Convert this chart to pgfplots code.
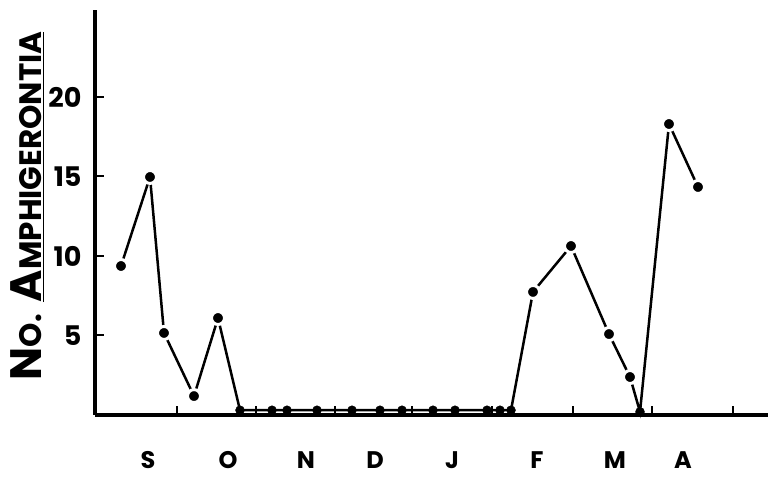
\documentclass[border=0pt]{standalone}
\usepackage{pgfplots}
\pgfplotsset{compat=1.18}
\usepackage{graphicx}
\usepackage{fontspec}
\setmainfont{Poppins}[UprightFont={* SemiBold},BoldFont={* Bold}]
\pgfplotstableread{
x y
121 9.37
150 14.97
164 5.16
194 1.19
218 6.1
240 0.3
272 0.3
287 0.3
317 0.3
352 0.3
380 0.3
402 0.3
433 0.3
455 0.3
487 0.3
500 0.3
511 0.3
533 7.74
571 10.63
609 5.09
630 2.39
640 0.2
669 18.3
698 14.34
}\alldata
\pgfplotstableread{
x y
121 9.37
150 14.97
164 5.16
194 1.19
218 6.1
533 7.74
571 10.63
609 5.09
630 2.39
669 18.3
698 14.34
}\highdata
\pgfplotstableread{
x y
240 0.3
272 0.3
287 0.3
317 0.3
352 0.3
380 0.3
402 0.3
433 0.3
455 0.3
487 0.3
500 0.3
511 0.3
640 0.2
}\zerodata
\begin{document}
\begin{tikzpicture}
\useasboundingbox (0,0) rectangle (768pt,479pt);
\begin{axis}[
  at={(95pt,64pt)}, anchor=south west,
  scale only axis, width=673pt, height=405pt,
  xmin=95, xmax=768, ymin=0, ymax=25.47,
  axis x line=bottom, axis y line=left,
  axis line style={-, line width=4pt},
  axis on top,
  tick align=inside,
  major tick length=9pt,
  tick style={line width=2pt, black},
  xtick={177,256,335,412,492,573,652,733},
  xticklabels={},
  extra x ticks={148,228,306,375,452,537,615,683},
  extra x tick labels={S,O,N,D,J,F,M,A},
  extra x tick style={major tick length=0pt, tick label style={font=\bfseries\fontsize{24}{24}\selectfont, anchor=north, inner sep=0pt, yshift=-36pt}},
  ytick={5,10,15,20},
  yticklabel style={font=\bfseries\fontsize{27}{27}\selectfont, xshift=-10pt},
  /pgf/number format/assume math mode=true,
  clip=false,
]
\addplot[black, line width=2.5pt, mark=none] table[x=x,y=y] {\alldata};
\addplot[only marks, mark=*, mark size=6.5pt,
  mark options={draw=white, line width=3pt, fill=black}] table[x=x,y=y] {\highdata};
\addplot[only marks, mark=*, mark size=4.5pt,
  mark options={draw=black, fill=black}] table[x=x,y=y] {\zerodata};
\end{axis}
\node[rotate=90, anchor=center, inner sep=0pt] at (27pt,273pt)
  {\bfseries{\fontsize{44}{44}\selectfont N}{\fontsize{31}{31}\selectfont O.}\hspace{12pt}\underline{{\fontsize{44}{44}\selectfont A}{\fontsize{31}{31}\selectfont MPHIGERONTIA}}};
\end{tikzpicture}
\end{document}
